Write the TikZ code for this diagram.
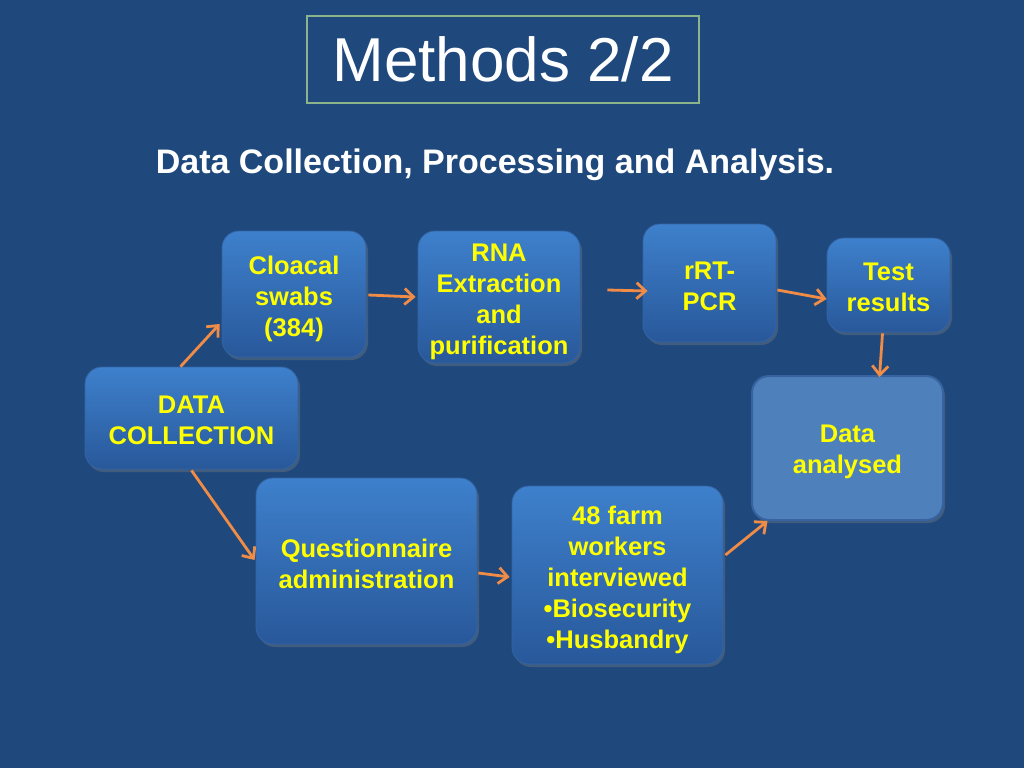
\documentclass[tikz,border=0pt]{standalone}
\usepackage{fontspec}
\setmainfont{Liberation Sans}
\usetikzlibrary{arrows.meta,calc,shadows}
\definecolor{bg}{RGB}{31,73,125}
\definecolor{ntop}{RGB}{62,128,204}
\definecolor{nbot}{RGB}{40,88,154}
\definecolor{nedge}{RGB}{52,100,165}
\definecolor{daf}{RGB}{78,128,188}
\definecolor{dae}{RGB}{55,100,160}
\definecolor{txt}{RGB}{255,255,0}
\definecolor{arr}{RGB}{240,140,70}
\definecolor{tbord}{RGB}{140,180,140}
\tikzset{
  box/.style={rectangle, rounded corners=17pt, top color=ntop, bottom color=nbot, draw=nedge, line width=0.8pt,
    drop shadow={opacity=0.35, shadow xshift=2pt, shadow yshift=-3pt}},
  btxt/.style={text=txt, align=center, font=\bfseries\fontsize{25.5}{31}\selectfont},
  conn/.style={draw=arr, line width=2.8pt, -{Straight Barb[length=9pt,width=16pt,line width=2.8pt]}}
}
\begin{document}
\begin{tikzpicture}[x=1pt,y=-1pt]
\fill[bg] (0,0) rectangle (1024,768);
\useasboundingbox (0,0) rectangle (1024,768);
\node[draw=tbord, line width=1.2pt, minimum width=392pt, minimum height=87pt, text=white, font=\fontsize{62}{70}\selectfont] (title) at (503,59.5) {Methods 2/2};
\node[text=white, font=\bfseries\fontsize{34}{40}\selectfont] (sub) at (495,165) {Data Collection, Processing and Analysis.};
\node[box, minimum width=144pt, minimum height=126pt] (cl) at (294,294) {};
\node[box, minimum width=162pt, minimum height=132pt] (rna) at (499,297) {};
\node[box, minimum width=133pt, minimum height=118pt] (rrt) at (709.5,283) {};
\node[box, minimum width=123pt, minimum height=94pt] (test) at (888.5,285) {};
\node[box, minimum width=213pt, minimum height=102pt] (dc) at (191.5,418) {};
\node[box, top color=daf, bottom color=daf, draw=dae, line width=2pt, minimum width=191pt, minimum height=144pt] (da) at (847.5,448) {};
\node[box, minimum width=221pt, minimum height=166pt] (quest) at (366.5,561) {};
\node[box, minimum width=211pt, minimum height=178pt] (farm) at (617.5,575) {};
\node[btxt] (clt) at ($(cl)+(0,5)$) {Cloacal\\swabs\\(384)};
\node[btxt] (rnat) at ($(rna)+(0,5)$) {RNA\\Extraction\\and\\purification};
\node[btxt] (rrtt) at ($(rrt)+(0,3)$) {rRT-\\PCR};
\node[btxt] (testt) at ($(test)+(0,2)$) {Test\\results};
\node[btxt] (dct) at ($(dc)+(0,2)$) {DATA\\COLLECTION};
\node[btxt] (dat) at ($(da)+(0,4)$) {Data\\analysed};
\node[btxt] (questt) at ($(quest)+(0,3)$) {Questionnaire\\administration};
\node[btxt] (farmt) at ($(farm)+(0,5)$) {48 farm\\workers\\interviewed\\•Biosecurity\\•Husbandry};
\draw[conn] ($(dc.north)+(-11,0)$) -- ($(cl.west)+(-2,30)$);
\draw[conn] ($(cl.east)+(2,1)$) -- ($(rna.west)+(-2,0)$);
\draw[conn] ($(rna.east)+(27,-7)$) -- ($(rrt.west)+(5,8)$);
\draw[conn] ($(rrt.east)+(1,7)$) -- ($(test.west)+(0,14)$);
\draw[conn] ($(test.south)+(-6,1)$) -- ($(da.north)+(32,2)$);
\draw[conn] ($(dc.south)+(0,1)$) -- ($(quest.west)+(-1,-1)$);
\draw[conn] ($(quest.east)+(1,12)$) -- ($(farm.west)+(-2,2)$);
\draw[conn] ($(farm.east)+(2,-20)$) -- ($(da.south)+(-80,0)$);
\end{tikzpicture}
\end{document}
